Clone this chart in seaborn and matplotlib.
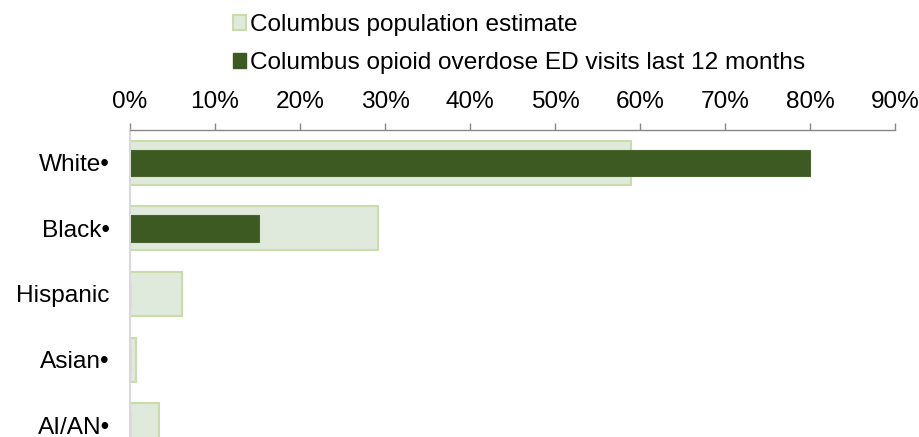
import matplotlib
matplotlib.use("Agg")
import matplotlib.pyplot as plt
import seaborn as sns
import pandas as pd
from matplotlib.patches import Patch
from matplotlib.ticker import PercentFormatter

categories = ["White\u2022", "Black\u2022", "Hispanic", "Asian\u2022", "AI/AN\u2022"]
population = [59.0, 29.2, 6.1, 0.7, 3.4]
ed_visits = [80.0, 15.2, 0.0, 0.0, 0.0]
series_names = ["Columbus population estimate",
                "Columbus opioid overdose ED visits last 12 months"]

light_fill = "#E0EADC"
light_edge = "#C9DDAA"
dark_fill = "#3E5A23"


def main():
    sns.set_theme(style="white")
    plt.rcParams["font.family"] = ["Liberation Sans", "DejaVu Sans"]
    plt.rcParams["text.color"] = "black"
    fs = 17.6

    df = pd.DataFrame({"cat": categories, "pop": population, "ed": ed_visits})

    fig = plt.figure(figsize=(9.19, 4.37), dpi=100)
    ax = fig.add_axes([130 / 919, 0.0, (895 - 130) / 919, (437 - 130) / 437])

    sns.barplot(data=df, x="pop", y="cat", orient="h", width=0.67,
                color=light_fill, edgecolor=light_edge, linewidth=1.5,
                saturation=1, ax=ax)
    sns.barplot(data=df, x="ed", y="cat", orient="h", width=0.40,
                color=dark_fill, edgecolor="#4A6530", linewidth=0.8,
                saturation=1, ax=ax)

    ax.set_xlim(0, 90)
    ax.set_ylim(4.18, -0.5)
    ax.xaxis.set_major_locator(plt.MultipleLocator(10))
    ax.xaxis.set_major_formatter(PercentFormatter(decimals=0))
    ax.xaxis.tick_top()
    ax.tick_params(axis="x", which="both", top=True, bottom=False, direction="out",
                   length=5, width=1, color="#888888", labelsize=fs, pad=7,
                   labelcolor="black")
    ax.tick_params(axis="y", left=False, labelsize=fs, pad=8.5, labelcolor="black")
    ax.set_xlabel("")
    ax.set_ylabel("")

    for side in ["right", "bottom"]:
        ax.spines[side].set_visible(False)
    ax.spines["top"].set_color("#888888")
    ax.spines["top"].set_linewidth(1)
    ax.spines["left"].set_color("#D9D9D9")
    ax.spines["left"].set_linewidth(1.5)

    handles = [Patch(facecolor=light_fill, edgecolor=light_edge, linewidth=1.5),
               Patch(facecolor=dark_fill, edgecolor=dark_fill)]
    fig.legend(handles, series_names, loc="upper left",
               bbox_to_anchor=(219 / 919, 1.0), frameon=False,
               fontsize=fs, handlelength=0.55, handleheight=0.55,
               handletextpad=0.16, labelspacing=0.66, borderaxespad=0.47,
               borderpad=0.1, labelcolor="black")

    fig.savefig("out.png", dpi=100)
    plt.close(fig)


if __name__ == "__main__":
    main()
